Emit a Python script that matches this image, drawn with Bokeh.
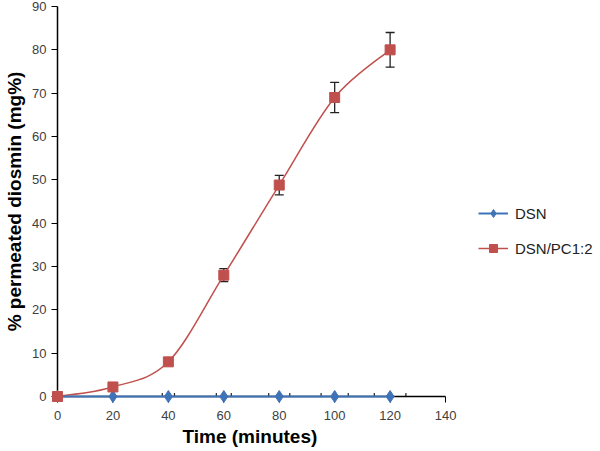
from bokeh.plotting import figure
from bokeh.models import ColumnDataSource, Whisker, Legend, LegendItem, Range1d, TeeHead, Title
from bokeh.embed import file_html
from bokeh.resources import INLINE

# ---- data ----
time = [0, 20, 40, 60, 80, 100, 120]
dsn = [0, 0, 0, 0, 0, 0, 0]
dsn_xerr = [0, 0, 2.2, 2.7, 3.8, 4.9, 5.7]
pc = [0, 2.2, 8.0, 28.0, 48.8, 69.0, 80.0]
pc_err = [0, 0, 0, 1.5, 2.25, 3.5, 4.0]
x_ticks = [0, 20, 40, 60, 80, 100, 120, 140]
y_ticks = [0, 10, 20, 30, 40, 50, 60, 70, 80, 90]

BLUE = "#3f73b8"
RED = "#c0504d"
FONT = "Liberation Sans"

# x range extends past 140 so the legend area lies inside the frame;
# the axis itself is bounded to 0..140
p = figure(width=600, height=451, output_backend="svg", toolbar_location=None,
           x_range=Range1d(0, 194.1), y_range=Range1d(0, 90),
           min_border_left=57, min_border_right=5, min_border_top=6, min_border_bottom=55)
p.outline_line_color = None
p.xgrid.visible = False
p.ygrid.visible = False
p.xaxis.bounds = (0, 140)

for ax, tk in ((p.xaxis[0], x_ticks), (p.yaxis[0], y_ticks)):
    ax.ticker = tk
    ax.axis_line_color = "black"
    ax.axis_line_width = 1.5
    ax.major_tick_line_color = "black"
    ax.major_tick_in = 0
    ax.major_tick_out = 6
    ax.minor_tick_line_color = None
    ax.major_label_text_font = FONT
    ax.major_label_text_font_size = "13px"
    ax.major_label_text_color = "#404040"
    ax.major_label_standoff = 5
    ax.axis_label_text_font = FONT
    ax.axis_label_text_font_size = "19px"
    ax.axis_label_text_font_style = "bold"
    ax.axis_label_text_color = "black"

p.yaxis.axis_label = "% permeated diosmin (mg%)"
p.xaxis.major_label_standoff = 8
p.yaxis.axis_label_standoff = 4

# x-axis title, centred under the 0..140 part of the axis
p.add_layout(Title(text="Time (minutes)", align="left", offset=125, standoff=2,
                   text_font=FONT, text_font_size="19px", text_font_style="bold",
                   text_color="black"), "below")

# smoothed (Catmull-Rom style, like Excel) curve for DSN/PC1:2
n = len(time)
x0, y0, x1, y1, cx0, cy0, cx1, cy1 = [], [], [], [], [], [], [], []
for i in range(n - 1):
    pm = i - 1 if i > 0 else i
    pp = i + 2 if i + 2 < n else i + 1
    x0.append(time[i]); y0.append(pc[i])
    x1.append(time[i + 1]); y1.append(pc[i + 1])
    cx0.append(time[i] + (time[i + 1] - time[pm]) / 6)
    cy0.append(pc[i] + (pc[i + 1] - pc[pm]) / 6)
    cx1.append(time[i + 1] - (time[pp] - time[i]) / 6)
    cy1.append(pc[i + 1] - (pc[pp] - pc[i]) / 6)
bz = p.bezier(x0=x0, y0=y0, x1=x1, y1=y1, cx0=cx0, cy0=cy0, cx1=cx1, cy1=cy1,
              line_color=RED, line_width=1.5)
bz.level = "overlay"

src_pc = ColumnDataSource(dict(x=time, y=pc, lo=[a - b for a, b in zip(pc, pc_err)],
                               hi=[a + b for a, b in zip(pc, pc_err)]))
src_dsn = ColumnDataSource(dict(x=time, y=dsn, lo=[a - b for a, b in zip(time, dsn_xerr)],
                                hi=[a + b for a, b in zip(time, dsn_xerr)]))

w1 = Whisker(source=src_pc, base="x", lower="lo", upper="hi", dimension="height",
             line_color="#222222", line_width=1.3,
             upper_head=TeeHead(size=9, line_color="#222222", line_width=1.3),
             lower_head=TeeHead(size=9, line_color="#222222", line_width=1.3))
p.add_layout(w1)

dsn_line = p.line("x", "y", source=src_dsn, line_color=BLUE, line_width=2)
dsn_line.level = "overlay"
w2 = Whisker(source=src_dsn, base="y", lower="lo", upper="hi", dimension="width",
             line_color="#222222", line_width=1.2,
             upper_head=TeeHead(size=7, line_color="#222222", line_width=1.2),
             lower_head=TeeHead(size=7, line_color="#222222", line_width=1.2))
p.add_layout(w2)

dsn_pts = p.scatter("x", "y", source=src_dsn, marker="diamond", size=12,
                    fill_color=BLUE, line_color=BLUE)
dsn_pts.level = "overlay"
pc_pts = p.scatter("x", "y", source=src_pc, marker="square", size=10,
                   fill_color=RED, line_color=RED)
pc_pts.level = "overlay"

legend = Legend(items=[LegendItem(label="DSN", renderers=[dsn_line, dsn_pts]),
                       LegendItem(label="DSN/PC1:2", renderers=[bz, pc_pts])],
                location=(421, 138), orientation="vertical",
                border_line_color=None, background_fill_alpha=0,
                padding=0, margin=0, spacing=15,
                glyph_width=30, glyph_height=20, label_height=20, label_standoff=7,
                label_text_font=FONT, label_text_font_size="15px",
                label_text_color="#222222")
p.add_layout(legend, "center")

open("out.html", "w").write(file_html(p, INLINE))
